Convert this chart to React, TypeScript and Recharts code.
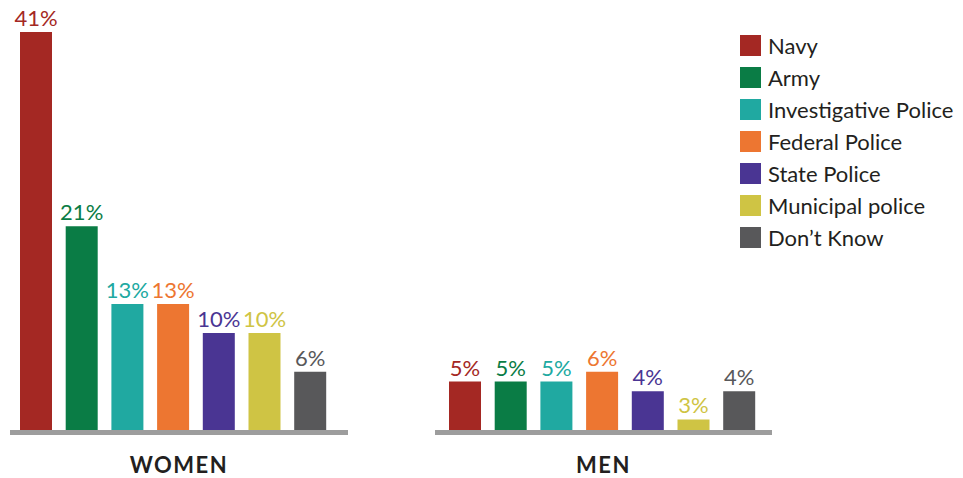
import { Bar, BarChart, LabelList, Legend, XAxis, YAxis } from "recharts";

const FONT = "Lato, 'Open Sans', sans-serif";

const services = [
  "Navy",
  "Army",
  "Investigative Police",
  "Federal Police",
  "State Police",
  "Municipal police",
  "Don\u2019t Know",
];
const colors = ["#a42823", "#0a7c45", "#20a9a1", "#ed7631", "#4a3593", "#cfc444", "#58585a"];
const groups = ["WOMEN", "MEN"];

const womenValues = [41, 21, 13, 13, 10, 10, 6];
const womenLabels = ["41%", "21%", "13%", "13%", "10%", "10%", "6%"];
// the printed 3% sits on a bar drawn much shorter in the source
const menValues = [5, 5, 5, 6, 4, 1.1, 4];
const menLabels = ["5%", "5%", "5%", "6%", "4%", "3%", "4%"];

function makeRow(name: string, values: number[], labels: string[]) {
  const row: Record<string, string | number> = { name };
  services.forEach((_, i) => {
    row[`v${i}`] = values[i];
    row[`l${i}`] = labels[i];
  });
  return [row];
}

const renderLegend = (props: any) => (
  <div style={{ fontFamily: FONT }}>
    {(props.payload || []).map((entry: any) => (
      <div key={entry.value} style={{ display: "flex", alignItems: "center", height: 32 }}>
        <span style={{ width: 21, height: 21, background: entry.color, marginRight: 7 }} />
        <span style={{ fontSize: 22, color: "#231f20", whiteSpace: "nowrap" }}>{entry.value}</span>
      </div>
    ))}
  </div>
);

type GroupProps = {
  group: string;
  values: number[];
  labels: string[];
  width: number;
  marginLeft: number;
  marginRight: number;
  padLeft: number;
  padRight: number;
  legend?: boolean;
};

function GroupChart(p: GroupProps) {
  return (
    <BarChart
      width={p.width}
      height={478}
      data={makeRow(p.group, p.values, p.labels)}
      margin={{ top: 22.4, right: p.marginRight, bottom: 0.5, left: p.marginLeft }}
      barSize={32}
      barGap={13.7}
      barCategoryGap={0}
    >
      <XAxis
        dataKey="name"
        tick={false}
        tickLine={false}
        height={45}
        padding={{ left: p.padLeft, right: p.padRight }}
        axisLine={{ stroke: "#9d9d9d", strokeWidth: 5 }}
        label={{
          value: p.group,
          position: "insideBottom",
          offset: 4.5,
          fill: "#231f20",
          fontSize: 22,
          fontWeight: 700,
          fontFamily: FONT,
          letterSpacing: 1.5,
        }}
      />
      <YAxis hide domain={[-0.25, 42]} />
      {services.map((s, i) => (
        <Bar key={s} dataKey={`v${i}`} name={s} fill={colors[i]} isAnimationActive={false}>
          <LabelList
            dataKey={`l${i}`}
            position="top"
            offset={6}
            fill={colors[i]}
            fontSize={22}
            fontFamily={FONT}
          />
        </Bar>
      ))}
      {p.legend && (
        <Legend
          layout="vertical"
          align="center"
          verticalAlign="middle"
          itemSorter={(item: any) => services.indexOf(item.value)}
          wrapperStyle={{ left: 360, top: 29.5, width: 220 }}
          content={renderLegend}
        />
      )}
    </BarChart>
  );
}

export default function App() {
  return (
    <div style={{ position: "absolute", left: 0, top: 0, width: 963, height: 478, background: "#fff" }}>
      <div style={{ position: "absolute", left: 0, top: 0 }}>
        <GroupChart
          group={groups[0]}
          values={womenValues}
          labels={womenLabels}
          width={360}
          marginLeft={10}
          marginRight={12}
          padLeft={9}
          padRight={21}
        />
      </div>
      <div style={{ position: "absolute", left: 380, top: 0 }}>
        <GroupChart
          group={groups[1]}
          values={menValues}
          labels={menLabels}
          width={583}
          marginLeft={55}
          marginRight={191}
          padLeft={13}
          padRight={16}
          legend
        />
      </div>
    </div>
  );
}
